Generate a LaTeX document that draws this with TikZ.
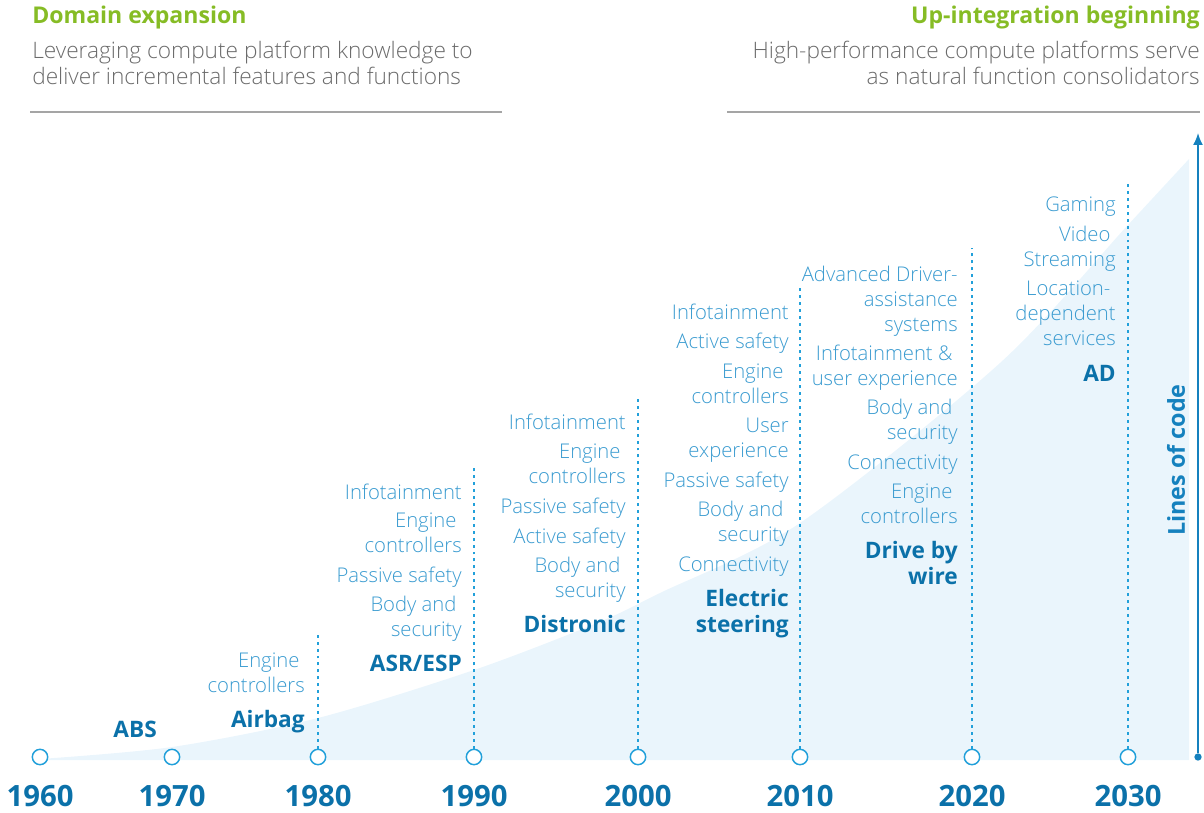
\documentclass[tikz,border=0pt]{standalone}
\usepackage{fontspec}
\setmainfont{Open Sans}
\IfFontExistsTF{Open Sans Light}{\newfontfamily\featfont{Open Sans Light}}{\newfontfamily\featfont{Open Sans}}
\usepackage{xcolor}
\definecolor{dgreen}{HTML}{86BC25}
\definecolor{keyblue}{HTML}{0B71A9}
\definecolor{featblue}{HTML}{3A9BD0}
\definecolor{ringblue}{HTML}{22A0DA}
\definecolor{axisblue}{HTML}{1581BE}
\definecolor{areablue}{HTML}{EAF5FC}
\definecolor{subgray}{HTML}{6B6B6B}
\definecolor{rulegray}{HTML}{A5A5A5}
\usetikzlibrary{arrows.meta,positioning}
\tikzstyle{ring}=[circle, draw=ringblue, fill=white, minimum size=11.5pt, line width=1.1pt, inner sep=0pt]
\tikzstyle{year}=[text=keyblue, font=\bfseries\fontsize{22}{24}\selectfont, anchor=base, inner sep=0pt]
\tikzstyle{feat}=[text=featblue, font=\featfont\fontsize{15.2}{18.4}\selectfont, align=right, anchor=base east, inner sep=0pt]
\tikzstyle{major}=[text=keyblue, font=\bfseries\fontsize{17}{19.5}\selectfont, align=right, anchor=base east, inner sep=0pt]
\tikzstyle{guide}=[draw=ringblue, line width=1.1pt, dash pattern=on 2.2pt off 3pt]
\tikzstyle{rule}=[draw=rulegray, line width=0.8pt]
\tikzstyle{head}=[text=dgreen, font=\bfseries\fontsize{17.3}{20}\selectfont, inner sep=0pt]
\tikzstyle{sub}=[text=subgray, font=\featfont\fontsize{17}{19.5}\selectfont, inner sep=0pt]
\newcommand\trail{\hspace*{.26em}}

\begin{document}
\begin{tikzpicture}[x=0.75pt,y=-0.75pt]
    \useasboundingbox (0,0) rectangle (1204,813);
    \fill[areablue] plot[smooth] coordinates {(40,759) (172,747) (318,718) (474,670) (597,623)
        (660,593) (800,523) (1000,363) (1127,226) (1189,159)} -- (1189,760) -- (40,760) -- cycle;

    \node[head, anchor=base west] (h1) at (32,24) {Domain expansion};
    \node[sub, anchor=base west, align=left] (s1) at (32,85) {Leveraging compute platform knowledge to\\deliver incremental features and functions};
    \node[head, anchor=base east] (h2) at (1200,24) {Up-integration beginning};
    \node[sub, anchor=base east, align=right] (s2) at (1200,85) {High-performance compute platforms serve\\as natural function consolidators};
    \draw[rule] (30,112) -- (502,112);
    \draw[rule] (727,112) -- (1200,112);

    \coordinate (t80) at (318,635);
    \coordinate (t90) at (474,465);
    \coordinate (t00) at (638,398);
    \coordinate (t10) at (800,287);
    \coordinate (t20) at (972,248);
    \coordinate (t30) at (1128,182);
    \node[ring] (y60) at (40,757) {};
    \node[ring] (y70) at (172,757) {};
    \node[ring] (y80) at (318,757) {};
    \node[ring] (y90) at (474,757) {};
    \node[ring] (y00) at (638,757) {};
    \node[ring] (y10) at (800,757) {};
    \node[ring] (y20) at (972,757) {};
    \node[ring] (y30) at (1128,757) {};
    \draw[guide] (y80) -- (t80);
    \draw[guide] (y90) -- (t90);
    \draw[guide] (y00) -- (t00);
    \draw[guide] (y10) -- (t10);
    \draw[guide] (y20) -- (t20);
    \draw[guide] (y30) -- (t30);

    \node[year] (n60) at (40,806) {1960};
    \node[year] (n70) at (172,806) {1970};
    \node[year] (n80) at (318,806) {1980};
    \node[year] (n90) at (474,806) {1990};
    \node[year] (n00) at (638,806) {2000};
    \node[year] (n10) at (800,806) {2010};
    \node[year] (n20) at (972,806) {2020};
    \node[year] (n30) at (1128,806) {2030};

    % 1970 / 1980 (multi-line nodes sit on their last line)
    \node[major] (m70) at (157,737) {ABS};
    \node[feat]  (f80) at (305,692.5) {Engine\trail\\controllers};
    \node[major] (m80) at (305,727) {Airbag};
    % 1990
    \node[feat]  (f90a) at (462,499) {Infotainment};
    \node[feat]  (f90b) at (462,552.5) {Engine\trail\\controllers};
    \node[feat]  (f90c) at (462,582) {Passive safety};
    \node[feat]  (f90d) at (462,636.5) {Body and\trail\\security};
    \node[major] (m90)  at (462,671) {ASR/ESP};
    % 2000
    \node[feat]  (f00a) at (626,429) {Infotainment};
    \node[feat]  (f00b) at (626,483.5) {Engine\trail\\controllers};
    \node[feat]  (f00c) at (626,513) {Passive safety};
    \node[feat]  (f00d) at (626,543) {Active safety};
    \node[feat]  (f00e) at (626,597.5) {Body and\trail\\security};
    \node[major] (m00)  at (626,632) {Distronic};
    % 2010
    \node[feat]  (f10a) at (789,320) {Infotainment};
    \node[feat]  (f10b) at (789,349) {Active safety};
    \node[feat]  (f10c) at (789,403.5) {Engine\trail\\controllers};
    \node[feat]  (f10d) at (789,457.5) {User\\experience};
    \node[feat]  (f10e) at (789,487) {Passive safety};
    \node[feat]  (f10f) at (789,541.5) {Body and\trail\\security};
    \node[feat]  (f10g) at (789,571) {Connectivity};
    \node[major] (m10)  at (789,632) {Electric\\steering};
    % 2020
    \node[feat]  (f20a) at (958,331) {Advanced Driver-\\assistance\trail\\systems};
    \node[feat]  (f20b) at (958,385.5) {Infotainment \&\trail\\user experience};
    \node[feat]  (f20c) at (958,439.5) {Body and\trail\\security};
    \node[feat]  (f20d) at (958,469) {Connectivity};
    \node[feat]  (f20e) at (958,523.5) {Engine\trail\\controllers};
    \node[major] (m20)  at (958,584) {Drive by\\wire};
    % 2030
    \node[feat]  (f30a) at (1116,212) {Gaming};
    \node[feat]  (f30b) at (1116,266.5) {Video\trail\\Streaming};
    \node[feat]  (f30c) at (1116,345) {Location-\trail\\dependent\trail\\services};
    \node[major] (m30)  at (1116,381) {AD};

    \node[circle, fill=axisblue, minimum size=5.5pt, inner sep=0pt] (ax0) at (1198,757) {};
    \coordinate (ax1) at (1198,133);
    \draw[axisblue, line width=1.3pt, -{Latex[length=9pt,width=7.5pt]}] (ax0) -- (ax1);
    \node[text=axisblue, font=\bfseries\fontsize{17.5}{20}\selectfont, rotate=90] (loc) at (1176,460) {Lines of code};
\end{tikzpicture}
\end{document}
